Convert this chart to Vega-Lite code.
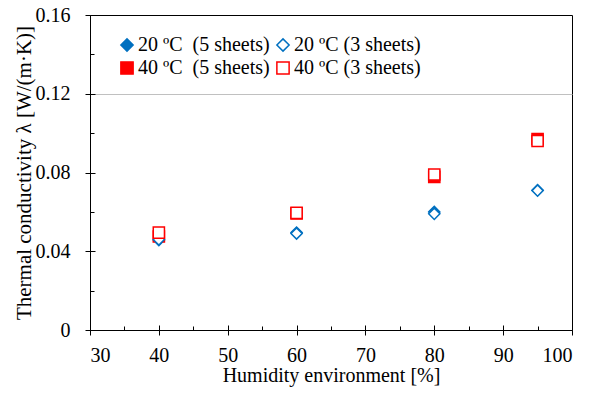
{
  "$schema": "https://vega.github.io/schema/vega-lite/v6.json",
  "width": 482,
  "height": 315,
  "autosize": {"type": "none"},
  "padding": {"left": 90, "top": 15, "right": 23, "bottom": 64},
  "background": "white",
  "config": {
    "view": {"stroke": "black", "strokeWidth": 1},
    "font": "Liberation Serif",
    "axis": {"labelFont": "Liberation Serif", "titleFont": "Liberation Serif"},
    "legend": {"labelFont": "Liberation Serif", "titleFont": "Liberation Serif"}
  },
  "data": {
    "values": [
      {"humidity": 40, "lambda": 0.0457, "series": "20 ºC\u00a0 (5 sheets)"},
      {"humidity": 60, "lambda": 0.0495, "series": "20 ºC\u00a0 (5 sheets)"},
      {"humidity": 80, "lambda": 0.0600, "series": "20 ºC\u00a0 (5 sheets)"},
      {"humidity": 95, "lambda": 0.0710, "series": "20 ºC\u00a0 (5 sheets)"},
      {"humidity": 40, "lambda": 0.0475, "series": "40 ºC\u00a0 (5 sheets)"},
      {"humidity": 60, "lambda": 0.0592, "series": "40 ºC\u00a0 (5 sheets)"},
      {"humidity": 80, "lambda": 0.0778, "series": "40 ºC\u00a0 (5 sheets)"},
      {"humidity": 95, "lambda": 0.0970, "series": "40 ºC\u00a0 (5 sheets)"},
      {"humidity": 40, "lambda": 0.0460, "series": "20 ºC (3 sheets)"},
      {"humidity": 60, "lambda": 0.0490, "series": "20 ºC (3 sheets)"},
      {"humidity": 80, "lambda": 0.0590, "series": "20 ºC (3 sheets)"},
      {"humidity": 95, "lambda": 0.0708, "series": "20 ºC (3 sheets)"},
      {"humidity": 40, "lambda": 0.0495, "series": "40 ºC (3 sheets)"},
      {"humidity": 60, "lambda": 0.0595, "series": "40 ºC (3 sheets)"},
      {"humidity": 80, "lambda": 0.0790, "series": "40 ºC (3 sheets)"},
      {"humidity": 95, "lambda": 0.0960, "series": "40 ºC (3 sheets)"}
    ]
  },
  "resolve": {"axis": {"x": "independent", "y": "independent"}},
  "layer": [
    {
      "mark": {"type": "point", "opacity": 1, "strokeWidth": 1.5, "size": 125},
      "encoding": {
        "x": {
          "field": "humidity", "type": "quantitative",
          "scale": {"domain": [30, 100], "nice": false, "zero": false},
          "axis": {
            "orient": "bottom",
            "title": "Humidity environment [%]",
            "values": [30, 35, 40, 45, 50, 55, 60, 65, 70, 75, 80, 85, 90, 95, 100],
            "labelExpr": "datum.value % 10 == 0 ? datum.label : ''",
            "tickSize": {"condition": {"test": "datum.value % 10 == 0", "value": 5}, "value": -4},
            "tickColor": "black", "domainColor": "black", "tickWidth": 1,
            "labelFontSize": 20, "labelColor": "black", "labelPadding": 10,
            "titleFontSize": 20, "titleFontWeight": "normal", "titleColor": "black", "titlePadding": 0,
            "grid": false
          }
        },
        "y": {
          "field": "lambda", "type": "quantitative",
          "scale": {"domain": [0, 0.16], "nice": false},
          "axis": {
            "orient": "left",
            "title": "Thermal conductivity λ [W/(m·K)]",
            "values": [0, 0.02, 0.04, 0.06, 0.08, 0.1, 0.12, 0.14, 0.16],
            "format": "~g",
            "labelExpr": "round(datum.value * 100) % 4 == 0 ? datum.label : ''",
            "tickSize": {"condition": {"test": "round(datum.value * 100) % 4 == 0", "value": 5}, "value": -4},
            "tickColor": "black", "domainColor": "black", "tickWidth": 1,
            "labelFontSize": 20, "labelColor": "black", "labelPadding": 15,
            "titleFontSize": 21, "titleFontWeight": "normal", "titleColor": "black", "titlePadding": 1,
            "grid": true,
            "gridColor": {"condition": {"test": "round(datum.value * 100) == 12", "value": "#c0c0c0"}, "value": "transparent"}
          }
        },
        "shape": {
          "field": "series", "type": "nominal",
          "scale": {
            "domain": ["20 ºC\u00a0 (5 sheets)", "20 ºC (3 sheets)", "40 ºC\u00a0 (5 sheets)", "40 ºC (3 sheets)"],
            "range": ["diamond", "diamond", "square", "square"]
          },
          "legend": {
            "title": null, "orient": "none", "legendX": 27, "legendY": 20,
            "columns": 2, "direction": "horizontal",
            "labelFontSize": 20, "labelColor": "black", "symbolSize": 150,
            "symbolStrokeWidth": 1.5, "labelOffset": 1, "rowPadding": 3, "columnPadding": 3,
            "padding": 0, "labelLimit": 300
          }
        },
        "fill": {
          "field": "series", "type": "nominal",
          "scale": {
            "domain": ["20 ºC\u00a0 (5 sheets)", "20 ºC (3 sheets)", "40 ºC\u00a0 (5 sheets)", "40 ºC (3 sheets)"],
            "range": ["#0070C0", "white", "#FF0000", "white"]
          }
        },
        "stroke": {
          "field": "series", "type": "nominal",
          "scale": {
            "domain": ["20 ºC\u00a0 (5 sheets)", "20 ºC (3 sheets)", "40 ºC\u00a0 (5 sheets)", "40 ºC (3 sheets)"],
            "range": ["#0070C0", "#0070C0", "#FF0000", "#FF0000"]
          }
        }
      }
    },
    {
      "mark": {"type": "point", "opacity": 0},
      "encoding": {
        "x": {
          "field": "humidity", "type": "quantitative",
          "axis": {
            "orient": "bottom", "title": null, "labels": false, "domain": false,
            "values": [30, 40, 50, 60, 70, 80, 90, 100],
            "tickSize": -5, "tickColor": "black", "tickWidth": 1, "grid": false
          }
        },
        "y": {
          "field": "lambda", "type": "quantitative",
          "axis": {
            "orient": "left", "title": null, "labels": false, "domain": false,
            "values": [0, 0.04, 0.08, 0.12, 0.16],
            "tickSize": -5, "tickColor": "black", "tickWidth": 1, "grid": false
          }
        }
      }
    }
  ]
}
